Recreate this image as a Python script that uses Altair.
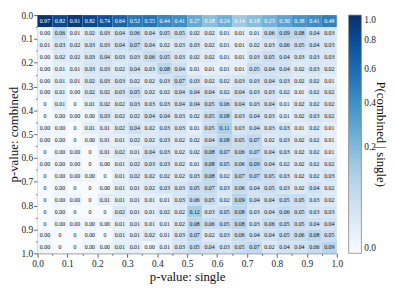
import altair as alt
import pandas as pd

# P(combined | single) matrix: rows = combined p-value bin (0.0 top), cols = single p-value bin
# 0.002 marks cells printed as "0.00" (non-zero but rounds to zero); 0 marks cells printed as "0"
r00 = [0.97, 0.82, 0.91, 0.82, 0.74, 0.64, 0.52, 0.55, 0.44, 0.41, 0.27, 0.18, 0.24, 0.14, 0.18, 0.23, 0.30, 0.38, 0.41, 0.48]
r01 = [0.002, 0.06, 0.01, 0.02, 0.03, 0.04, 0.06, 0.04, 0.05, 0.05, 0.02, 0.02, 0.01, 0.01, 0.01, 0.06, 0.09, 0.08, 0.04, 0.03]
r02 = [0.01, 0.03, 0.02, 0.03, 0.03, 0.04, 0.07, 0.04, 0.02, 0.03, 0.03, 0.02, 0.01, 0.01, 0.02, 0.03, 0.06, 0.05, 0.04, 0.03]
r03 = [0.002, 0.02, 0.02, 0.03, 0.04, 0.03, 0.03, 0.06, 0.05, 0.03, 0.02, 0.02, 0.01, 0.01, 0.03, 0.05, 0.04, 0.03, 0.03, 0.03]
r04 = [0.002, 0.01, 0.01, 0.03, 0.03, 0.02, 0.04, 0.03, 0.08, 0.04, 0.01, 0.01, 0.01, 0.01, 0.05, 0.04, 0.04, 0.02, 0.03, 0.02]
r05 = [0.002, 0.01, 0.01, 0.02, 0.03, 0.03, 0.02, 0.02, 0.03, 0.07, 0.03, 0.02, 0.02, 0.03, 0.03, 0.04, 0.03, 0.02, 0.02, 0.01]
r06 = [0.002, 0.01, 0.002, 0.02, 0.02, 0.03, 0.05, 0.02, 0.02, 0.04, 0.04, 0.04, 0.02, 0.04, 0.03, 0.03, 0.02, 0.01, 0.02, 0.02]
r07 = [0, 0.01, 0, 0.01, 0.02, 0.02, 0.03, 0.03, 0.03, 0.04, 0.04, 0.05, 0.06, 0.04, 0.03, 0.04, 0.01, 0.02, 0.02, 0.02]
r08 = [0, 0.002, 0.002, 0.002, 0.03, 0.02, 0.02, 0.04, 0.04, 0.03, 0.02, 0.05, 0.08, 0.03, 0.04, 0.03, 0.01, 0.02, 0.03, 0.02]
r09 = [0.002, 0.002, 0, 0.01, 0.01, 0.02, 0.04, 0.02, 0.03, 0.03, 0.01, 0.05, 0.11, 0.03, 0.04, 0.03, 0.03, 0.01, 0.02, 0.01]
r10 = [0.002, 0.002, 0, 0.002, 0.01, 0.01, 0.02, 0.02, 0.03, 0.02, 0.02, 0.04, 0.08, 0.05, 0.07, 0.02, 0.03, 0.02, 0.02, 0.01]
r11 = [0, 0.002, 0.002, 0, 0.01, 0.02, 0.01, 0.04, 0.03, 0.02, 0.02, 0.08, 0.07, 0.06, 0.07, 0.04, 0.03, 0.02, 0.02, 0.01]
r12 = [0.002, 0.002, 0.002, 0, 0.002, 0.01, 0.02, 0.03, 0.03, 0.02, 0.01, 0.08, 0.05, 0.06, 0.09, 0.04, 0.02, 0.02, 0.02, 0.02]
r13 = [0, 0.002, 0.002, 0.002, 0, 0.01, 0.02, 0.02, 0.02, 0.02, 0.03, 0.08, 0.02, 0.07, 0.07, 0.05, 0.03, 0.02, 0.02, 0.03]
r14 = [0, 0.002, 0, 0, 0.002, 0.01, 0.01, 0.02, 0.03, 0.03, 0.05, 0.07, 0.03, 0.06, 0.04, 0.05, 0.03, 0.02, 0.04, 0.02]
r15 = [0, 0.002, 0.002, 0, 0.01, 0.01, 0.01, 0.01, 0.01, 0.03, 0.06, 0.05, 0.02, 0.09, 0.04, 0.04, 0.05, 0.05, 0.03, 0.02]
r16 = [0, 0.002, 0, 0, 0, 0.02, 0.01, 0.01, 0.02, 0.02, 0.12, 0.03, 0.05, 0.08, 0.03, 0.04, 0.06, 0.05, 0.03, 0.03]
r17 = [0, 0.002, 0.002, 0.002, 0.002, 0.01, 0.01, 0.01, 0.01, 0.02, 0.08, 0.06, 0.05, 0.08, 0.03, 0.06, 0.05, 0.05, 0.04, 0.04]
r18 = [0.002, 0, 0, 0.002, 0, 0.01, 0.01, 0.02, 0.01, 0.03, 0.07, 0.02, 0.03, 0.06, 0.04, 0.04, 0.05, 0.06, 0.08, 0.05]
r19 = [0.002, 0, 0, 0.002, 0.002, 0.01, 0.01, 0.002, 0.01, 0.03, 0.05, 0.04, 0.03, 0.05, 0.07, 0.02, 0.04, 0.04, 0.06, 0.09]

matrix_rows = [r00, r01, r02, r03, r04, r05, r06, r07, r08, r09,
               r10, r11, r12, r13, r14, r15, r16, r17, r18, r19]

bin_width = 0.05
n_bins = 20
tick_values = [round(i * bin_width, 2) for i in range(n_bins + 1)]
legend_values = [0.0, 0.2, 0.4, 0.6, 0.8, 1.0]
legend_title = "P(combined | single)"

blues = ["#f7fbff", "#deebf7", "#c6dbef", "#9ecae1", "#6baed6",
         "#4292c6", "#2171b5", "#08519c", "#08306b"]
blues_domain = [(k / 8) ** 2 for k in range(9)]

records = []
for i, row in enumerate(matrix_rows):
    for j, v in enumerate(row):
        records.append({
            "x": j * bin_width, "x2": (j + 1) * bin_width, "xc": (j + 0.5) * bin_width,
            "y": i * bin_width, "y2": (i + 1) * bin_width, "yc": (i + 0.5) * bin_width,
            "p": v,
        })
df = pd.DataFrame(records)

W, H = 304, 242
FONT = "Liberation Serif"
major_test = "round(datum.value * 20) % 2 == 0"
label_expr = f"{major_test} ? format(datum.value, '.1f') : ''"

def make_axis(title, title_pad):
    return alt.Axis(
        title=title, values=tick_values, labelExpr=label_expr, grid=False,
        labelOverlap=False,
        tickSize={"condition": {"test": major_test, "value": 4}, "value": 2},
        tickColor="#666", domainColor="#888", labelColor="#222",
        labelFont=FONT, labelFontSize=9.5, labelPadding=1, labelFlush=False,
        titleFont=FONT, titleFontSize=13, titleFontWeight="normal", titleColor="#111",
        titlePadding=title_pad,
    )

x_axis = make_axis("p-value: single", 3)
y_axis = make_axis("p-value: combined", 0)
xscale = alt.Scale(domain=[0, 1], nice=False, zero=False)
yscale = alt.Scale(domain=[0, 1], nice=False, zero=False, reverse=True)

base = alt.Chart(df)

heat = base.mark_rect().encode(
    x=alt.X("x:Q", scale=xscale, axis=x_axis),
    x2="x2:Q",
    y=alt.Y("y:Q", scale=yscale, axis=y_axis),
    y2="y2:Q",
    color=alt.Color(
        "p:Q",
        scale=alt.Scale(type="pow", exponent=0.5, domain=blues_domain, range=blues, clamp=True),
        legend=alt.Legend(
            title=None, orient="none", legendX=W + 12, legendY=0,
            direction="vertical", gradientLength=H, gradientThickness=13,
            values=legend_values, format=".1f",
            labelFont=FONT, labelFontSize=9.5, labelColor="#222", labelOffset=3,
            gradientStrokeColor="#888", gradientStrokeWidth=0.8,
        ),
    ),
)

labels = base.transform_calculate(
    label="datum.p == 0 ? '0' : format(datum.p, '.2f')"
).mark_text(font=FONT, fontSize=6).encode(
    x=alt.X("xc:Q", scale=xscale, axis=x_axis),
    y=alt.Y("yc:Q", scale=yscale, axis=y_axis),
    text="label:N",
    color=alt.condition("datum.p > 0.13", alt.value("white"), alt.value("#111")),
)

cbar_title = alt.Chart(pd.DataFrame({"t": [legend_title]})).mark_text(
    font=FONT, fontSize=13, angle=90, color="#111", align="center", baseline="middle"
).encode(text="t:N", x=alt.value(W + 45), y=alt.value(H / 2))

chart = alt.layer(heat, labels, cbar_title).properties(
    width=W, height=H, padding=0
).configure_view(stroke=None)

chart.save("out.html", embed_options={"renderer": "svg", "actions": False})
